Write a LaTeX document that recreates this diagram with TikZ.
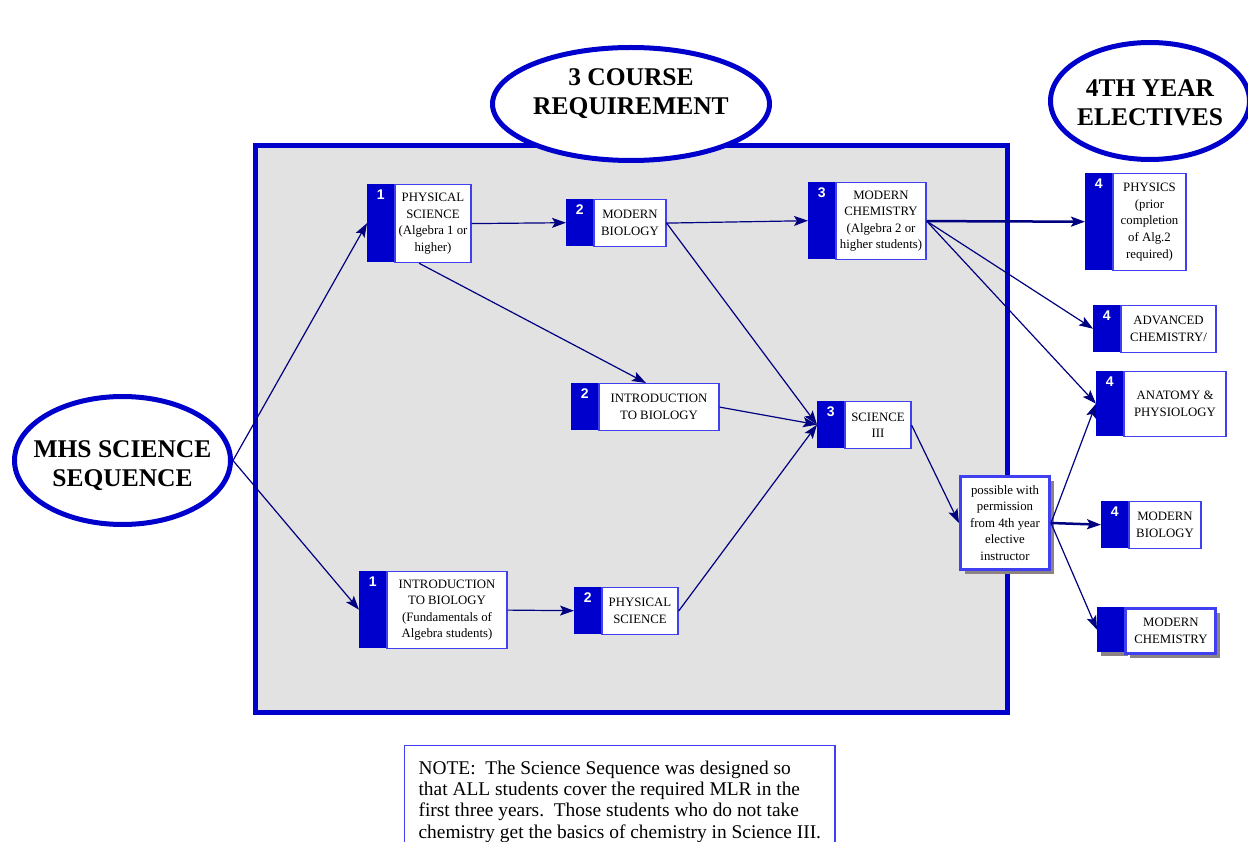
\documentclass[tikz,border=0pt]{standalone}
\usepackage{fontspec}
\setmainfont{Liberation Serif}
\newfontfamily\numfamily{Liberation Sans}
\usetikzlibrary{arrows.meta,shapes,shadows,positioning}

\definecolor{tabblue}{RGB}{0,0,204}
\definecolor{edgeblue}{RGB}{64,64,240}
\definecolor{linkblue}{RGB}{0,0,128}
\definecolor{panelgrey}{RGB}{227,226,226}
\definecolor{shadegrey}{RGB}{140,132,132}

\newcommand\coursefont{\fontsize{12.8}{16.6}\selectfont}
\newcommand\tabfont{\numfamily\bfseries\fontsize{14}{14}\selectfont}
\newcommand\headfont{\bfseries\fontsize{25.5}{29}\selectfont}
\newcommand\notefont{\fontsize{19.4}{21.4}\selectfont}

\begin{document}
\begin{tikzpicture}[x=1pt,y=-1pt]
	\tikzstyle{course}=[rectangle,draw=edgeblue,line width=1.2pt,fill=white,align=center,
			    font=\coursefont,inner sep=2pt,anchor=north west]
	\tikzstyle{tab}=[rectangle,fill=tabblue,minimum width=27pt,inner sep=0pt,anchor=north west]
	\tikzstyle{num}=[font=\tabfont,text=white,anchor=north,inner sep=0pt,yshift=-6pt]
	\tikzstyle{dropped}=[drop shadow={shadow xshift=4pt,shadow yshift=-4pt,fill=shadegrey,opacity=1}]
	\tikzstyle{head}=[ellipse,draw=tabblue,line width=5pt,fill=white,inner sep=0pt]
	\tikzstyle{headtext}=[align=center,font=\headfont,inner sep=0pt]
	\tikzstyle{link}=[draw=linkblue,line width=1.2pt,-{Stealth[length=14pt,width=10pt,inset=3pt]}]
	\tikzstyle{note}=[rectangle,draw=edgeblue,line width=1.2pt,anchor=north west,
			  align=left,inner xsep=14pt,inner ysep=15pt,font=\notefont]

	\useasboundingbox (0,0) rectangle (1248,842);

	\draw[line width=5pt,draw=tabblue,fill=panelgrey] (255,146) rectangle (1007,712);

	\node[head,minimum width=277pt,minimum height=113pt] (req) at (631,104) {};
	\node[headtext,yshift=10pt] (reqtext) at (req.center) {3 COURSE\\REQUIREMENT};
	\node[head,minimum width=199pt,minimum height=117pt] (elec) at (1150,101) {};
	\node[headtext,yshift=-2pt] (electext) at (elec.center) {4TH YEAR\\ELECTIVES};
	\node[head,minimum width=216pt,minimum height=128pt] (mhs) at (122.5,460.5) {};
	\node[headtext,yshift=-5pt] (mhstext) at (mhs.center) {MHS SCIENCE\\SEQUENCE};

	% year 1
	\node[tab,minimum height=78pt,label={[num]north:1}] (ps1n) at (367,184) {};
	\node[course,minimum width=76pt,minimum height=78pt] (ps1) at (ps1n.north east) {PHYSICAL\\SCIENCE\\(Algebra 1 or\\higher)};
	\node[tab,minimum height=77pt,label={[num]north:1}] (ib1n) at (359,571) {};
	\node[course,minimum width=120pt,minimum height=77pt] (ib1) at (ib1n.north east) {INTRODUCTION\\TO BIOLOGY\\(Fundamentals of\\Algebra students)};

	% year 2
	\node[tab,minimum height=47pt,label={[num]north:2}] (mbn) at (566,199) {};
	\node[course,minimum width=72pt,minimum height=47pt] (mb) at (mbn.north east) {MODERN\\BIOLOGY};
	\node[tab,minimum height=47pt,label={[num]north:2}] (ib2n) at (571,383) {};
	\node[course,minimum width=120pt,minimum height=47pt] (ib2) at (ib2n.north east) {INTRODUCTION\\TO BIOLOGY};
	\node[tab,minimum height=47pt,label={[num]north:2}] (ps2n) at (574,587) {};
	\node[course,minimum width=76pt,minimum height=47pt] (ps2) at (ps2n.north east) {PHYSICAL\\SCIENCE};

	% year 3
	\node[tab,minimum height=77pt,label={[num]north:3}] (mcn) at (808,182) {};
	\node[course,minimum width=90pt,minimum height=77pt] (mc) at (mcn.north east) {MODERN\\CHEMISTRY\\(Algebra 2 or\\higher students)};
	\node[tab,minimum height=47pt,label={[num]north:3}] (s3n) at (817,401) {};
	\node[course,minimum width=66pt,minimum height=47pt] (s3) at (s3n.north east) {SCIENCE\\III};

	\node[course,dropped,line width=3pt,minimum width=89pt,minimum height=93pt] (poss) at (959,475) {possible with\\permission\\from 4th year\\elective\\instructor};

	% year 4
	\node[tab,minimum height=97pt,label={[num]north:4}] (phyn) at (1085,173) {};
	\node[course,minimum width=73pt,minimum height=97pt] (phy) at (phyn.north east) {PHYSICS\\(prior\\completion\\of Alg.2\\required)};
	\node[tab,minimum height=47pt,label={[num]north:4}] (advn) at (1093,305) {};
	\node[course,minimum width=95pt,minimum height=47pt] (adv) at (advn.north east) {ADVANCED\\CHEMISTRY/};
	\node[tab,minimum height=65pt,label={[num]north:4}] (anatn) at (1096,371) {};
	\node[course,minimum width=102pt,minimum height=65pt] (anat) at (anatn.north east) {ANATOMY \&\\PHYSIOLOGY};
	\node[tab,minimum height=47pt,label={[num]north:4}] (mb4n) at (1101,501) {};
	\node[course,minimum width=72pt,minimum height=47pt] (mb4) at (mb4n.north east) {MODERN\\BIOLOGY};
	\node[tab,dropped,minimum height=45pt] (mc4n) at (1097,607) {};
	\node[course,dropped,line width=3pt,minimum width=90pt,minimum height=45pt] (mc4) at (mc4n.north east) {MODERN\\CHEMISTRY};

	\draw[link] (mhs.east) -- (ps1n.west);
	\draw[link] (mhs.east) -- (ib1n.west);
	\draw[link] (ps1.east) -- (mbn.west);
	\draw[link] ([xshift=-14pt]ps1.south) -- ([xshift=-13pt]ib2.north);
	\draw[link] (ib1.east) -- (ps2n.west);
	\draw[link] (mb.east) -- (mcn.west);
	\draw[link] (mb.east) -- (s3n.west);
	\draw[link] (ib2.east) -- (s3n.west);
	\draw[link] (ps2.east) -- (s3n.west);
	\draw[link,line width=2.5pt] (mc.east) -- (phyn.west);
	\draw[link] (mc.east) -- (advn.west);
	\draw[link] (mc.east) -- (anatn.west);
	\draw[link] (s3.east) -- (poss.west);
	\draw[link] (poss.east) -- (anatn.west);
	\draw[link,line width=2.5pt] (poss.east) -- (mb4n.west);
	\draw[link] (poss.east) -- (mc4n.west);
	%\draw[link] (s3.east) -- (mc4n.west);

	\node[note] (notebox) at (404,745) {NOTE:\ \ The Science Sequence was designed so\\that ALL students cover the required MLR in the\\first three years.\ \ Those students who do not take\\chemistry get the basics of chemistry in Science III.};
\end{tikzpicture}
\end{document}
